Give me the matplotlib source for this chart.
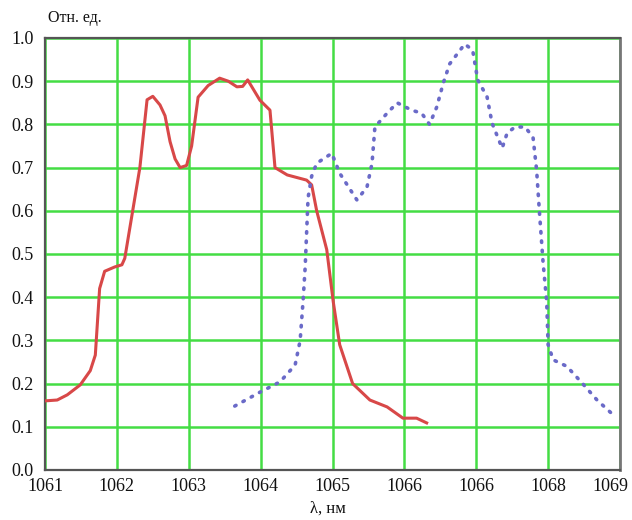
import matplotlib
matplotlib.use("Agg")
import matplotlib.pyplot as plt
import matplotlib.transforms as mtransforms

# Red (solid) spectrum
red_x = [1061.0, 1061.17, 1061.31, 1061.49, 1061.63, 1061.70, 1061.76, 1061.83, 1061.97,
         1062.07, 1062.11, 1062.22, 1062.32, 1062.42, 1062.50, 1062.60, 1062.67, 1062.74,
         1062.81, 1062.88, 1062.97, 1063.04, 1063.13, 1063.27, 1063.43, 1063.55, 1063.67,
         1063.75, 1063.82, 1063.99, 1064.13, 1064.20, 1064.37, 1064.64, 1064.71, 1064.78,
         1064.92, 1065.01, 1065.10, 1065.28, 1065.52, 1065.76, 1065.98, 1066.17, 1066.31]
red_y = [0.160, 0.162, 0.174, 0.197, 0.230, 0.266, 0.420, 0.460, 0.470,
         0.475, 0.490, 0.600, 0.700, 0.857, 0.865, 0.845, 0.820, 0.760,
         0.720, 0.700, 0.705, 0.750, 0.863, 0.890, 0.907, 0.900, 0.887,
         0.888, 0.903, 0.856, 0.833, 0.700, 0.683, 0.671, 0.660, 0.600,
         0.510, 0.390, 0.290, 0.200, 0.162, 0.146, 0.120, 0.120, 0.109]

# Blue (dotted) spectrum
blue_x = [1063.64, 1063.99, 1064.27, 1064.48, 1064.55, 1064.59, 1064.62, 1064.66, 1064.71,
          1064.78, 1064.99, 1065.10, 1065.34, 1065.48, 1065.55, 1065.59, 1065.76, 1065.90,
          1066.10, 1066.24, 1066.35, 1066.45, 1066.54, 1066.63, 1066.84, 1066.95, 1067.02,
          1067.15, 1067.22, 1067.36, 1067.43, 1067.54, 1067.68, 1067.79, 1067.84, 1067.88,
          1067.93, 1067.98, 1068.00, 1068.07, 1068.26, 1068.48, 1068.68, 1068.89]
blue_y = [0.148, 0.180, 0.204, 0.243, 0.300, 0.390, 0.470, 0.630, 0.680,
          0.710, 0.733, 0.687, 0.625, 0.655, 0.710, 0.794, 0.826, 0.850,
          0.833, 0.826, 0.800, 0.840, 0.895, 0.940, 0.986, 0.972, 0.903,
          0.864, 0.803, 0.745, 0.780, 0.794, 0.794, 0.770, 0.694, 0.595,
          0.480, 0.390, 0.290, 0.255, 0.240, 0.200, 0.162, 0.130]

x_ticks = [1061, 1062, 1063, 1064, 1065, 1066, 1067, 1068, 1069]
x_tick_labels = ["1061", "1062", "1063", "1064", "1065", "1066", "1066", "1068", "1069"]
y_ticks = [0.0, 0.1, 0.2, 0.3, 0.4, 0.5, 0.6, 0.7, 0.8, 0.9, 1.0]
y_tick_labels = ["0.0", "0.1", "0.2", "0.3", "0.4", "0.5", "0.6", "0.7", "0.8", "0.9", "1.0"]

plt.rcParams['font.family'] = ['Liberation Serif', 'DejaVu Serif']

fig = plt.figure(figsize=(6.32, 5.2), dpi=100)
ax = fig.add_axes([45/632, 50/520, 575/632, 432/520])

ax.set_xlim(1061, 1069)
ax.set_ylim(0.0, 1.0)
ax.set_xticks(x_ticks)
ax.set_xticklabels(x_tick_labels)
ax.set_yticks(y_ticks)
ax.set_yticklabels(y_tick_labels)
ax.tick_params(length=0, labelsize=13, colors="#111111")
ax.tick_params(axis='x', pad=6)
ax.tick_params(axis='y', pad=8)

# last x label sits shifted left so it stays inside the image
last = ax.get_xticklabels()[-1]
last.set_transform(last.get_transform() + mtransforms.ScaledTranslation(-10/100, 0, fig.dpi_scale_trans))

ax.grid(True, color="#44dd44", linewidth=1.8)
ax.set_axisbelow(True)

for s in ["left", "bottom", "top"]:
    ax.spines[s].set_color("#555555")
    ax.spines[s].set_linewidth(1.6)
ax.spines["right"].set_color("#777777")
ax.spines["right"].set_linewidth(2.0)

ax.plot(red_x, red_y, color="#d84848", linewidth=2.2, solid_joinstyle="round", zorder=3)
ax.plot(blue_x, blue_y, color="#6a6ac8", linewidth=2.6, linestyle=(0, (0.4, 2.2)),
        dash_capstyle="round", zorder=3)

fig.text(48/632, 1 - 18/520, "Отн. ед.", fontsize=11.5, va="center", ha="left", color="#111111")
fig.text(328/632, 1 - 509/520, "λ, нм", fontsize=12, va="center", ha="center", color="#111111")

fig.savefig("out.png", dpi=100, facecolor="white")
